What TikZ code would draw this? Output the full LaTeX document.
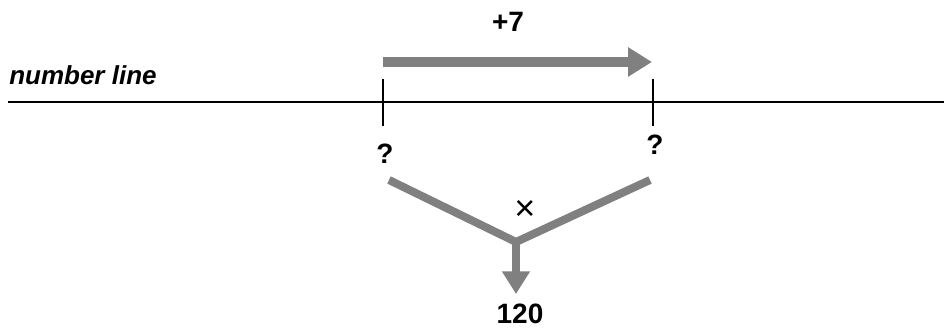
\documentclass[tikz,border=0pt]{standalone}
\usepackage{fontspec}
\setmainfont{Liberation Sans}
\usepackage{tikz}
\usetikzlibrary{arrows.meta,positioning}

\begin{document}
\begin{tikzpicture}[
    x=0.75pt, y=0.75pt, line cap=butt,
    nline/.style ={black, line width=1.5pt},
    tick/.style  ={black, line width=1.1pt},
    garrow/.style={draw=black!50, line width=7.5pt, -{Triangle[length=18pt, width=21pt]}},
    gline/.style ={draw=black!50, line width=6pt},
    gdown/.style ={draw=black!50, line width=6pt, -{Triangle[length=17pt, width=20pt]}},
    num/.style   ={font=\fontsize{21}{25}\selectfont\bfseries, inner sep=0pt},
    lname/.style ={font=\fontsize{19.5}{23}\selectfont\bfseries\itshape, anchor=west, inner sep=0pt},
    op/.style    ={font=\fontsize{27}{31}\selectfont, inner sep=0pt}
]
\useasboundingbox (0,0) rectangle (944,331);

% number line (y=229)
\coordinate (nlA) at (8,229);
\coordinate (nlB) at (944,229);
\draw[nline] (nlA) -- (nlB);
\node[lname] (lab) at (9,256) {number line};

% ticks
\coordinate (tLt) at (383,252);
\coordinate (tLb) at (383,205);
\coordinate (tRt) at (653,252);
\coordinate (tRb) at (653,205);
\draw[tick] (tLt) -- (tLb);
\draw[tick] (tRt) -- (tRb);

% +7 jump
\coordinate (jA) at (383,269);
\coordinate (jB) at (652,269);
\draw[garrow] (jA) -- (jB);
\node[num] (plus) at (508,309) {+7};

% unknowns
\node[num] (qL) at (385,177) {?};
\node[num] (qR) at (655,186) {?};

% product
\coordinate (vL) at (389,151);
\coordinate (vR) at (650,151);
\coordinate (vM) at (516,89);
\coordinate (vE) at (516,37);
\draw[gline] (vL) -- (vM) -- (vR);
\draw[gdown] ([yshift=2pt]vM) -- (vE);
\node[op] (times) at (525,121) {×};
\node[num] (res) at (520,17) {120};
\end{tikzpicture}
\end{document}
